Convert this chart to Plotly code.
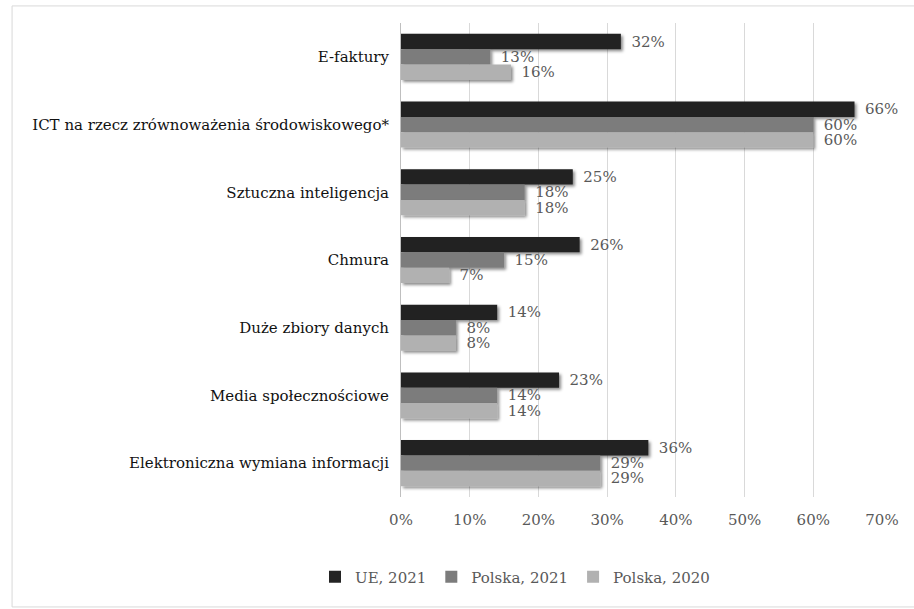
import plotly.graph_objects as go

# Obszary wykorzystania technologii cyfrowych (od góry wykresu)
categories = [
    "E-faktury",
    "ICT na rzecz zrównoważenia środowiskowego*",
    "Sztuczna inteligencja",
    "Chmura",
    "Duże zbiory danych",
    "Media społecznościowe",
    "Elektroniczna wymiana informacji",
]

series_names = ["UE, 2021", "Polska, 2021", "Polska, 2020"]
ue_2021 = [32, 66, 25, 26, 14, 23, 36]
pl_2021 = [13, 60, 18, 15, 8, 14, 29]
pl_2020 = [16, 60, 18, 7, 8, 14, 29]

tick_values = [0, 10, 20, 30, 40, 50, 60, 70]
tick_labels = ["0%", "10%", "20%", "30%", "40%", "50%", "60%", "70%"]

series_values = [ue_2021, pl_2021, pl_2020]
series_colors = ["#242424", "#7c7c7c", "#b1b1b1"]

SERIF = "DejaVu Serif"

fig = go.Figure()
for name, vals, color in zip(series_names, series_values, series_colors):
    fig.add_trace(go.Bar(
        name=name,
        y=categories,
        x=vals,
        orientation="h",
        marker=dict(color=color, line=dict(width=0)),
        text=[f"\u2002{v}%" for v in vals],
        textposition="outside",
        constraintext="none",
        cliponaxis=False,
        textfont=dict(family=SERIF, size=15, color="#595959"),
    ))

fig.update_layout(
    width=914,
    height=609,
    barmode="group",
    bargap=0.32,
    bargroupgap=0,
    paper_bgcolor="white",
    plot_bgcolor="white",
    margin=dict(l=401, r=32, t=23, b=112, autoexpand=False),
    font=dict(family=SERIF, size=15, color="#595959"),
    xaxis=dict(
        range=[0, 70],
        tickvals=tick_values,
        ticktext=tick_labels,
        showgrid=True,
        gridcolor="#d9d9d9",
        gridwidth=1,
        zeroline=False,
        showline=False,
        ticks="",
        ticklabelstandoff=12,
        tickfont=dict(family=SERIF, size=15, color="#595959"),
    ),
    yaxis=dict(
        autorange="reversed",
        showline=True,
        linecolor="#bfbfbf",
        linewidth=1,
        ticks="",
        ticklabelstandoff=8,
        tickfont=dict(family=SERIF, size=15, color="#111111"),
    ),
    legend=dict(
        orientation="h",
        x=0.237,
        xanchor="center",
        y=-0.169,
        yanchor="middle",
        traceorder="normal",
        font=dict(family=SERIF, size=15, color="#595959"),
        itemwidth=30,
    ),
    showlegend=True,
    shapes=[
        dict(
            type="rect",
            xref="paper", yref="paper",
            x0=-0.8086, x1=1.08, y0=-0.232, y1=1.036,
            line=dict(color="#d9d9d9", width=1),
            fillcolor="rgba(0,0,0,0)",
            layer="below",
        )
    ],
)

# Soft drop shadow under the bars, applied as an SVG filter after each redraw
shadow_js = """
var gd = document.getElementById('{plot_id}');
function addBarShadow() {
    var ns = 'http://www.w3.org/2000/svg';
    var svg = gd.querySelector('svg.main-svg');
    if (!svg) return;
    if (!document.getElementById('bar-shadow')) {
        var defs = svg.querySelector('defs') || svg.insertBefore(document.createElementNS(ns, 'defs'), svg.firstChild);
        var f = document.createElementNS(ns, 'filter');
        f.setAttribute('id', 'bar-shadow');
        f.setAttribute('x', '-10%');
        f.setAttribute('y', '-30%');
        f.setAttribute('width', '130%');
        f.setAttribute('height', '180%');
        var ds = document.createElementNS(ns, 'feDropShadow');
        ds.setAttribute('dx', '2');
        ds.setAttribute('dy', '2');
        ds.setAttribute('stdDeviation', '1.6');
        ds.setAttribute('flood-color', '#000000');
        ds.setAttribute('flood-opacity', '0.45');
        f.appendChild(ds);
        defs.appendChild(f);
    }
    gd.querySelectorAll('.barlayer .point path').forEach(function (p) {
        p.setAttribute('filter', 'url(#bar-shadow)');
    });
}
addBarShadow();
gd.on('plotly_afterplot', addBarShadow);
"""

fig.write_html("out.html", post_script=shadow_js)
